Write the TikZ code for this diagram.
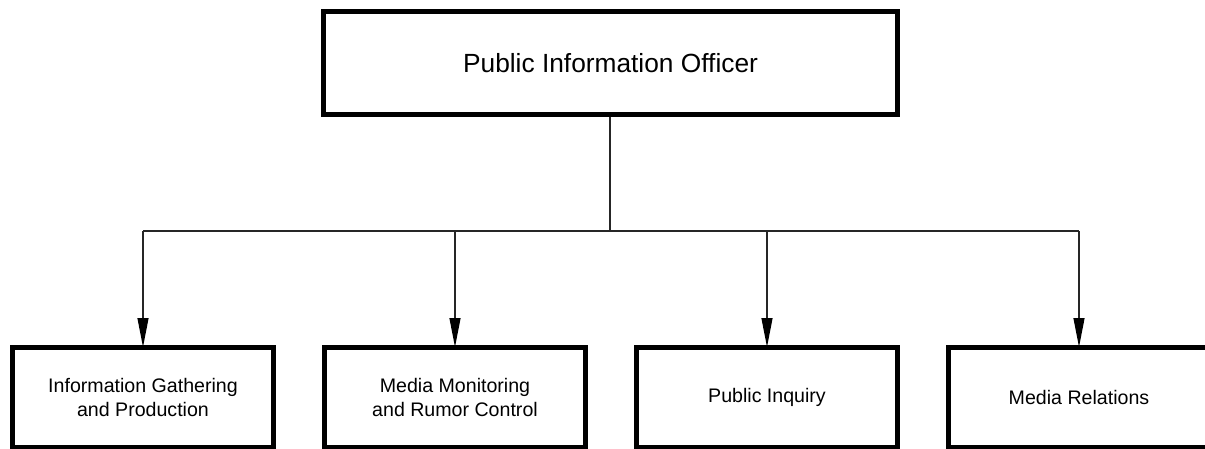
\documentclass[tikz,border=0pt]{standalone}
\usepackage{fontspec}
\setmainfont{Liberation Sans}
\usetikzlibrary{arrows.meta}
\begin{document}
\begin{tikzpicture}[x=1pt,y=-1pt,
  topbox/.style={draw=black, line width=5pt, minimum width=574pt, minimum height=103pt, inner sep=0pt,
    font=\fontsize{26.3}{31}\selectfont},
  subbox/.style={draw=black, line width=5pt, minimum width=261pt, minimum height=100pt, inner sep=0pt,
    align=center, font=\fontsize{19.6}{23.5}\selectfont},
  conn/.style={draw=black!85, line width=1.2pt},
  arr/.style={conn, -{Triangle[length=29pt,width=11pt,color=black]}, shorten >=-2pt}]
\useasboundingbox (0,0) rectangle (1205,448);
\clip (0,0) rectangle (1205,448);
\node[topbox] (pio) at (610.5,63) {Public Information Officer};
\node[subbox] (c1) at (143,397.5) {Information Gathering\\and Production};
\node[subbox] (c2) at (455,397.5) {Media Monitoring\\and Rumor Control};
\node[subbox] (c3) at (767,397.5) {Public Inquiry};
\node[subbox] (c4) at (1079,397.5) {Media Relations};
\coordinate (bus) at (610,231);
\draw[conn] (pio.south -| bus) -- (bus);
\draw[conn] (c1 |- bus) -- (c4 |- bus);
\draw[arr] (c1 |- bus) -- (c1.north);
\draw[arr] (c2 |- bus) -- (c2.north);
\draw[arr] (c3 |- bus) -- (c3.north);
\draw[arr] (c4 |- bus) -- (c4.north);
\end{tikzpicture}
\end{document}
